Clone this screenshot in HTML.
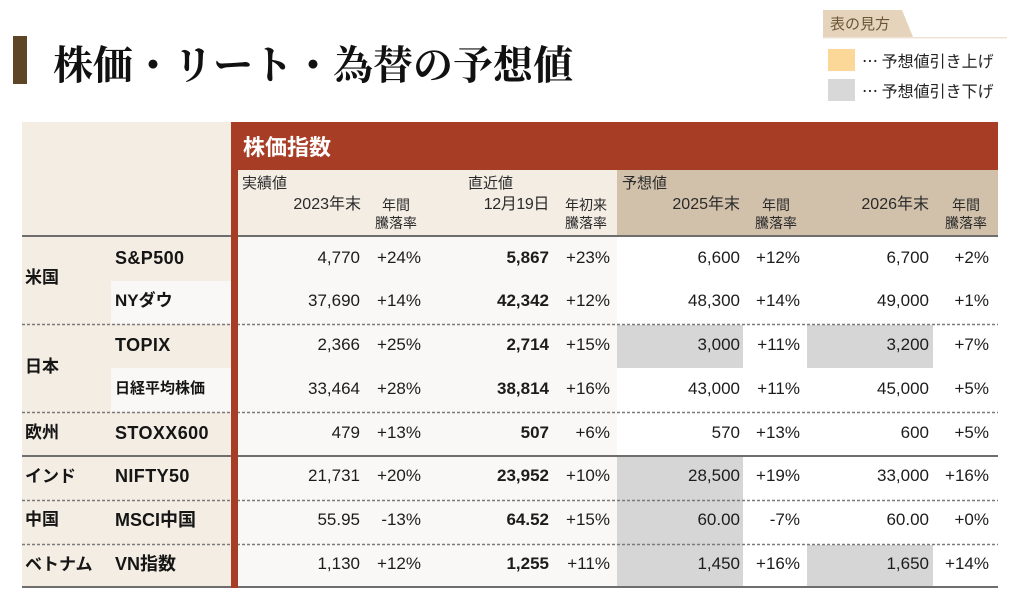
<!DOCTYPE html>
<html><head><meta charset="utf-8">
<style>
html,body{margin:0;padding:0;background:#fff;}
body{width:1024px;height:601px;position:relative;overflow:hidden;font-family:"Liberation Sans","Noto Sans CJK JP",sans-serif;color:#1c1c1c;}
.a{position:absolute;white-space:nowrap;}
.r{position:absolute;white-space:nowrap;text-align:right;height:44px;line-height:44px;font-size:17px;}
.b{font-weight:bold;}
.h{position:absolute;white-space:nowrap;font-family:"Noto Sans CJK JP",sans-serif;font-size:15px;line-height:18px;color:#2a2a2a;}
.hd{position:absolute;white-space:nowrap;text-align:right;font-family:"Liberation Sans","Noto Sans CJK JP",sans-serif;font-size:16px;line-height:20px;color:#2a2a2a;}
.c{position:absolute;white-space:nowrap;text-align:center;font-family:"Noto Sans CJK JP",sans-serif;font-size:14px;line-height:18px;color:#2a2a2a;width:60px;}
.lb{position:absolute;white-space:nowrap;height:44px;line-height:44px;font-weight:bold;color:#151515;}
</style></head><body>

<!-- title -->
<div class="a" style="left:13px;top:36px;width:14px;height:48px;background:#5e4526;"></div>
<div class="a" style="left:53px;top:43px;height:40px;line-height:40px;font-size:40px;font-family:'Noto Serif CJK JP','Noto Serif CJK SC',serif;font-weight:bold;color:#111;">株価・リート・為替の予想値</div>

<!-- legend -->
<svg class="a" style="left:0;top:0" width="1024" height="601">
<polygon points="823,10 902,10 913,37 823,37" fill="#e5d4bb"/>
<rect x="823" y="37" width="184" height="1.5" fill="#eee3d5"/>
<rect x="828" y="49" width="27" height="22" fill="#fbd898"/>
<rect x="828" y="79" width="27" height="22" fill="#d8d8d8"/>
</svg>
<div class="a" style="left:830px;top:13px;line-height:22px;font-size:15px;font-family:'Noto Sans CJK JP',sans-serif;color:#6b5536;">表の見方</div>
<div class="a" style="left:862px;top:49px;line-height:22px;font-size:16px;font-family:'Noto Sans CJK JP',sans-serif;color:#222;">… 予想値引き上げ</div>
<div class="a" style="left:862px;top:79px;line-height:22px;font-size:16px;font-family:'Noto Sans CJK JP',sans-serif;color:#222;">… 予想値引き下げ</div>

<!-- table shapes -->
<svg class="a" style="left:0;top:0" width="1024" height="601">
<rect x="22" y="122" width="209" height="465" fill="#f4ede4"/>
<rect x="111" y="281" width="120" height="43" fill="#f9f8f6"/>
<rect x="111" y="368" width="120" height="44" fill="#f9f8f6"/>
<rect x="238" y="170" width="379" height="66" fill="#f4ede4"/>
<rect x="617" y="170" width="381" height="66" fill="#d1c1ab"/>
<rect x="238" y="237" width="379" height="350" fill="#f9f8f6"/>
<rect x="617" y="237" width="381" height="350" fill="#ffffff"/>
<rect x="617" y="325" width="126" height="43" fill="#d6d6d6"/>
<rect x="807" y="325" width="126" height="43" fill="#d6d6d6"/>
<rect x="617" y="457" width="126" height="130" fill="#d6d6d6"/>
<rect x="807" y="545" width="126" height="42" fill="#d6d6d6"/>
<g stroke="#7a7a7a" stroke-width="1.5" stroke-dasharray="3,2">
<line x1="22" y1="324.5" x2="998" y2="324.5"/>
<line x1="22" y1="412.5" x2="998" y2="412.5"/>
<line x1="22" y1="500.5" x2="998" y2="500.5"/>
<line x1="22" y1="544.5" x2="998" y2="544.5"/>
</g>
<rect x="22" y="235" width="976" height="2" fill="#6e6e6e"/>
<rect x="22" y="455" width="976" height="2" fill="#6e6e6e"/>
<rect x="22" y="586" width="976" height="2" fill="#6e6e6e"/>
<rect x="231" y="122" width="767" height="48" fill="#a83d25"/>
<rect x="231" y="122" width="7" height="466" fill="#a83d25"/>
</svg>
<div class="a" style="left:243px;top:131px;line-height:30px;font-size:22px;font-weight:bold;color:#fff;font-family:'Noto Sans CJK JP',sans-serif;">株価指数</div>

<!-- header labels -->
<div class="h" style="left:242px;top:174px;">実績値</div>
<div class="h" style="left:468px;top:174px;">直近値</div>
<div class="h" style="left:622px;top:174px;">予想値</div>
<div class="hd" style="right:663px;top:195px;">2023年末</div>
<div class="hd" style="right:475px;top:195px;letter-spacing:-0.4px;">12月19日</div>
<div class="hd" style="right:284px;top:195px;">2025年末</div>
<div class="hd" style="right:95px;top:195px;">2026年末</div>
<div class="c" style="left:366px;top:196px;">年間</div>
<div class="c" style="left:366px;top:214px;">騰落率</div>
<div class="c" style="left:556px;top:196px;">年初来</div>
<div class="c" style="left:556px;top:214px;">騰落率</div>
<div class="c" style="left:746px;top:196px;">年間</div>
<div class="c" style="left:746px;top:214px;">騰落率</div>
<div class="c" style="left:936px;top:196px;">年間</div>
<div class="c" style="left:936px;top:214px;">騰落率</div>

<!-- left labels -->
<div class="lb" style="left:25px;top:256px;font-size:17px;">米国</div>
<div class="lb" style="left:25px;top:345px;font-size:17px;">日本</div>
<div class="lb" style="left:25px;top:411px;font-size:17px;">欧州</div>
<div class="lb" style="left:25px;top:455px;font-size:17px;">インド</div>
<div class="lb" style="left:25px;top:498px;font-size:17px;">中国</div>
<div class="lb" style="left:25px;top:543px;font-size:17px;">ベトナム</div>

<div class="lb" style="left:115px;top:236px;font-size:18px;letter-spacing:0.4px;">S&amp;P500</div>
<div class="lb" style="left:115px;top:279px;font-size:17px;">NYダウ</div>
<div class="lb" style="left:115px;top:323px;font-size:18px;letter-spacing:0.4px;">TOPIX</div>
<div class="lb" style="left:115px;top:367px;font-size:15px;">日経平均株価</div>
<div class="lb" style="left:115px;top:411px;font-size:18px;letter-spacing:0.4px;">STOXX600</div>
<div class="lb" style="left:115px;top:454px;font-size:18px;letter-spacing:0.4px;">NIFTY50</div>
<div class="lb" style="left:115px;top:498px;font-size:18px;">MSCI中国</div>
<div class="lb" style="left:115px;top:542px;font-size:18px;">VN指数</div>

<!-- data rows -->
<!-- row 1 -->
<div class="r" style="right:664px;top:236px;">4,770</div>
<div class="r" style="right:603px;top:236px;">+24%</div>
<div class="r b" style="right:475px;top:236px;">5,867</div>
<div class="r" style="right:414px;top:236px;">+23%</div>
<div class="r" style="right:284px;top:236px;">6,600</div>
<div class="r" style="right:224px;top:236px;">+12%</div>
<div class="r" style="right:95px;top:236px;">6,700</div>
<div class="r" style="right:35px;top:236px;">+2%</div>
<!-- row 2 -->
<div class="r" style="right:664px;top:279px;">37,690</div>
<div class="r" style="right:603px;top:279px;">+14%</div>
<div class="r b" style="right:475px;top:279px;">42,342</div>
<div class="r" style="right:414px;top:279px;">+12%</div>
<div class="r" style="right:284px;top:279px;">48,300</div>
<div class="r" style="right:224px;top:279px;">+14%</div>
<div class="r" style="right:95px;top:279px;">49,000</div>
<div class="r" style="right:35px;top:279px;">+1%</div>
<!-- row 3 -->
<div class="r" style="right:664px;top:323px;">2,366</div>
<div class="r" style="right:603px;top:323px;">+25%</div>
<div class="r b" style="right:475px;top:323px;">2,714</div>
<div class="r" style="right:414px;top:323px;">+15%</div>
<div class="r" style="right:284px;top:323px;">3,000</div>
<div class="r" style="right:224px;top:323px;">+11%</div>
<div class="r" style="right:95px;top:323px;">3,200</div>
<div class="r" style="right:35px;top:323px;">+7%</div>
<!-- row 4 -->
<div class="r" style="right:664px;top:367px;">33,464</div>
<div class="r" style="right:603px;top:367px;">+28%</div>
<div class="r b" style="right:475px;top:367px;">38,814</div>
<div class="r" style="right:414px;top:367px;">+16%</div>
<div class="r" style="right:284px;top:367px;">43,000</div>
<div class="r" style="right:224px;top:367px;">+11%</div>
<div class="r" style="right:95px;top:367px;">45,000</div>
<div class="r" style="right:35px;top:367px;">+5%</div>
<!-- row 5 -->
<div class="r" style="right:664px;top:411px;">479</div>
<div class="r" style="right:603px;top:411px;">+13%</div>
<div class="r b" style="right:475px;top:411px;">507</div>
<div class="r" style="right:414px;top:411px;">+6%</div>
<div class="r" style="right:284px;top:411px;">570</div>
<div class="r" style="right:224px;top:411px;">+13%</div>
<div class="r" style="right:95px;top:411px;">600</div>
<div class="r" style="right:35px;top:411px;">+5%</div>
<!-- row 6 -->
<div class="r" style="right:664px;top:454px;">21,731</div>
<div class="r" style="right:603px;top:454px;">+20%</div>
<div class="r b" style="right:475px;top:454px;">23,952</div>
<div class="r" style="right:414px;top:454px;">+10%</div>
<div class="r" style="right:284px;top:454px;">28,500</div>
<div class="r" style="right:224px;top:454px;">+19%</div>
<div class="r" style="right:95px;top:454px;">33,000</div>
<div class="r" style="right:35px;top:454px;">+16%</div>
<!-- row 7 -->
<div class="r" style="right:664px;top:498px;">55.95</div>
<div class="r" style="right:603px;top:498px;">-13%</div>
<div class="r b" style="right:475px;top:498px;">64.52</div>
<div class="r" style="right:414px;top:498px;">+15%</div>
<div class="r" style="right:284px;top:498px;">60.00</div>
<div class="r" style="right:224px;top:498px;">-7%</div>
<div class="r" style="right:95px;top:498px;">60.00</div>
<div class="r" style="right:35px;top:498px;">+0%</div>
<!-- row 8 -->
<div class="r" style="right:664px;top:542px;">1,130</div>
<div class="r" style="right:603px;top:542px;">+12%</div>
<div class="r b" style="right:475px;top:542px;">1,255</div>
<div class="r" style="right:414px;top:542px;">+11%</div>
<div class="r" style="right:284px;top:542px;">1,450</div>
<div class="r" style="right:224px;top:542px;">+16%</div>
<div class="r" style="right:95px;top:542px;">1,650</div>
<div class="r" style="right:35px;top:542px;">+14%</div>

</body></html>
